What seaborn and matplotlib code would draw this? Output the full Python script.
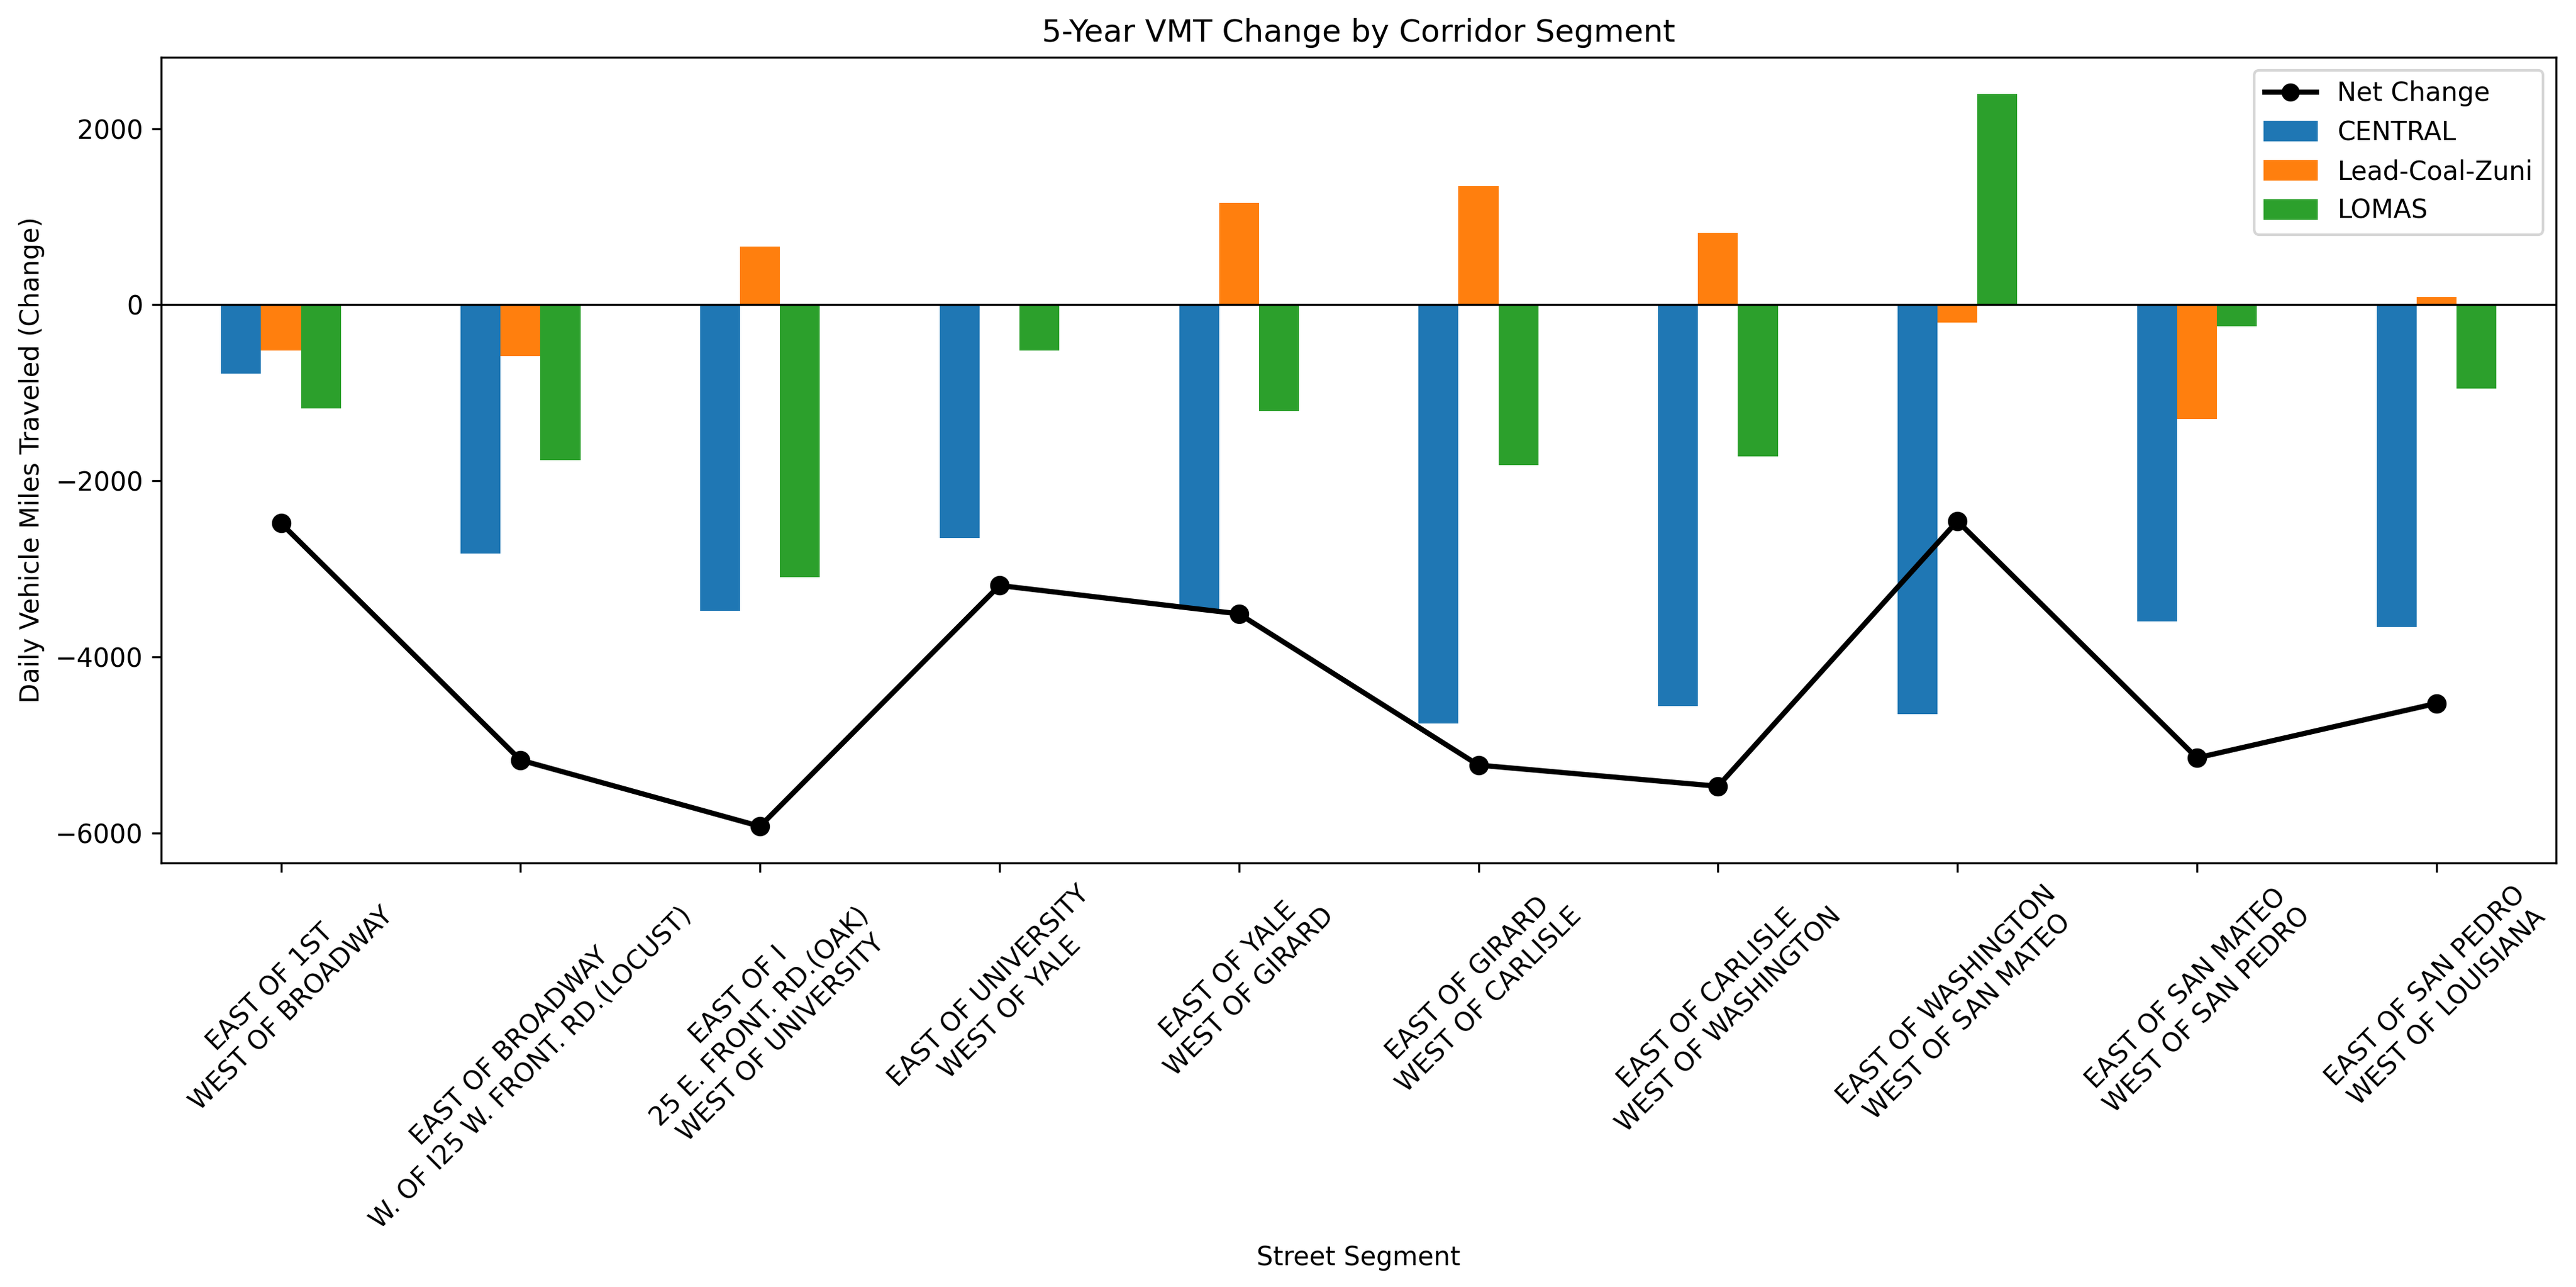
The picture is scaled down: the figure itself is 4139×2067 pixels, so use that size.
import numpy as np
import pandas as pd
import matplotlib
matplotlib.use('Agg')
import matplotlib.pyplot as plt
import seaborn as sns

# Segment labels (x axis)
segments = [
    "EAST OF 1ST\nWEST OF BROADWAY",
    "EAST OF BROADWAY\nW. OF I25 W. FRONT. RD.(LOCUST)",
    "EAST OF I\n25 E. FRONT. RD.(OAK)\nWEST OF UNIVERSITY",
    "EAST OF UNIVERSITY\nWEST OF YALE",
    "EAST OF YALE\nWEST OF GIRARD",
    "EAST OF GIRARD\nWEST OF CARLISLE",
    "EAST OF CARLISLE\nWEST OF WASHINGTON",
    "EAST OF WASHINGTON\nWEST OF SAN MATEO",
    "EAST OF SAN MATEO\nWEST OF SAN PEDRO",
    "EAST OF SAN PEDRO\nWEST OF LOUISIANA",
]

# Change in daily VMT per corridor
central = [-783, -2823, -3480, -2646, -3461, -4755, -4559, -4648, -3600, -3657]
lead_coal_zuni = [-518, -587, 657, 0, 1156, 1345, 815, -202, -1301, 88]
lomas = [-1181, -1762, -3094, -524, -1206, -1825, -1724, 2394, -246, -954]
net_change = [-2482, -5172, -5924, -3189, -3511, -5229, -5469, -2457, -5147, -4528]

corridors = ["CENTRAL", "Lead-Coal-Zuni", "LOMAS"]
colors = ["#1f77b4", "#ff7f0e", "#2ca02c"]

df = pd.DataFrame({
    "Segment": segments * 3,
    "Corridor": np.repeat(corridors, len(segments)),
    "Change": central + lead_coal_zuni + lomas,
})

fig, ax = plt.subplots(figsize=(4139 / 300, 2067 / 300), dpi=300)

sns.barplot(data=df, x="Segment", y="Change", hue="Corridor",
            hue_order=corridors, order=segments, palette=colors,
            saturation=1, width=0.5, linewidth=0, ax=ax)

sns.pointplot(x=segments, y=net_change, order=segments, color="black",
              marker="o", linewidth=2, markersize=6, ax=ax)

ax.axhline(0, color="black", linewidth=0.8)

ax.set_title("5-Year VMT Change by Corridor Segment")
ax.set_xlabel("Street Segment")
ax.set_ylabel("Daily Vehicle Miles Traveled (Change)")
ax.tick_params(axis="x", rotation=45)
ax.set_xlim(-0.5, len(segments) - 0.5)

# legend: line first, then the bar groups
if ax.get_legend() is not None:
    ax.get_legend().remove()
line_handle = ax.lines[0]
handles = [plt.Line2D([], [], color="black", marker="o", linewidth=2, markersize=6)]
handles += [plt.Rectangle((0, 0), 1, 1, color=c) for c in colors]
ax.legend(handles, ["Net Change"] + corridors, loc="upper right")

fig.subplots_adjust(left=0.0626, right=0.9923, top=0.9555, bottom=0.3295)
fig.savefig("out.png", dpi=300)
